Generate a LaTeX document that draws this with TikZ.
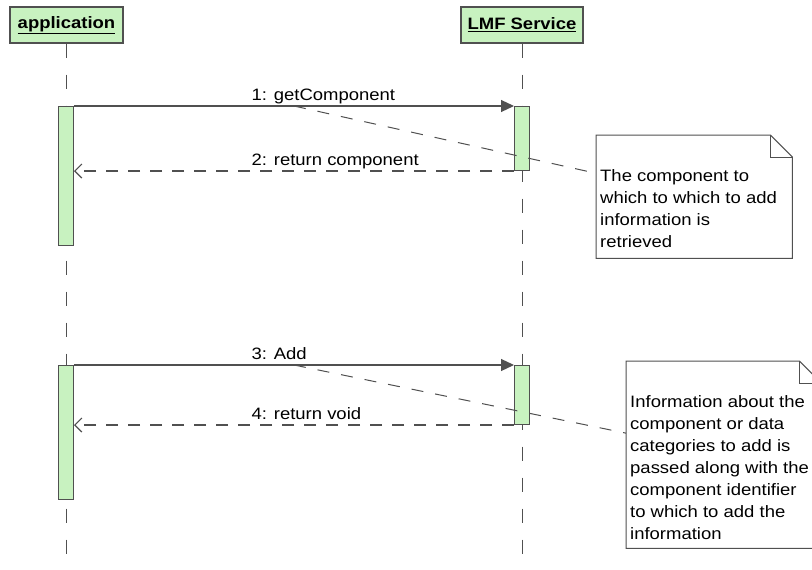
\documentclass[tikz,border=0pt]{standalone}
\usepackage{fontspec}
\setmainfont{Liberation Sans}[FakeStretch=1.12]
\usetikzlibrary{arrows.meta,calc}
\definecolor{actgreen}{RGB}{200,242,192}
\definecolor{umlgray}{RGB}{80,80,80}

\begin{document}
\begin{tikzpicture}[x=1pt,y=-1pt,line join=miter,
  every node/.style={font=\fontsize{16.5}{22}\selectfont},
  head/.style={draw=umlgray,fill=actgreen,line width=1.2pt,minimum height=36pt,inner sep=0pt,font=\fontsize{16.5}{22}\selectfont\bfseries},
  lifeline/.style={draw=umlgray,line width=1pt,dash pattern=on 14pt off 17pt},
  act/.style={draw=umlgray,fill=actgreen,line width=1pt,minimum width=15pt,inner sep=0pt,anchor=north},
  call/.style={draw=umlgray,line width=1.2pt,-{Triangle[length=13pt,width=12pt]}},
  reply/.style={draw=umlgray,line width=1.2pt,dash pattern=on 12pt off 10pt,-{Straight Barb[length=7pt,width=14pt,line width=1.2pt]}},
  msglabel/.style={anchor=south west,inner sep=1pt,text depth=4pt},
  notebox/.style={minimum width=#1,anchor=north west,inner sep=0pt,fill=white},
  noteline/.style={draw=umlgray,line width=1pt},
  notetext/.style={anchor=north west,inner sep=0pt,align=left},
  notelink/.style={draw=umlgray,line width=1pt,dash pattern=on 12pt off 12pt}]
\useasboundingbox (0,0) rectangle (812,570);
\clip (0,0) rectangle (812,570);

\node[head,minimum width=113pt] (app) at (66.5,25) {\underline{application}};
\node[head,minimum width=122pt] (lmf) at (522,25) {\underline{LMF Service}};
\coordinate (append) at (66,570);
\coordinate (lmfend) at (522,570);
\draw[lifeline] (app) -- (app.south |- append);
\draw[lifeline] (lmf) -- (lmfend);

\node[act,minimum height=139pt] (appact1) at (66,106) {};
\node[act,minimum height=64pt] (lmfact1) at (522,106) {};
\node[act,minimum height=134pt] (appact2) at (66,365) {};
\node[act,minimum height=59pt] (lmfact2) at (522,365) {};

\draw[call] (appact1.north east) -- (lmfact1.north west) coordinate[pos=0.5] (m1)
  node[msglabel,pos=0.4] {1: getComponent};
\draw[reply] (lmfact1.south west) -- (appact1.east |- lmfact1.south west)
  node[msglabel,pos=0.6] {2: return component};
\draw[call] (appact2.north east) -- (lmfact2.north west) coordinate[pos=0.5] (m3)
  node[msglabel,pos=0.4] {3: Add};
\draw[reply] (lmfact2.south west) -- (appact2.east |- lmfact2.south west)
  node[msglabel,pos=0.6] {4: return void};

\node[notebox=196pt,minimum height=123pt] (n1) at (596,135) {};
\draw[noteline] (n1.north west) -- ([xshift=-22pt]n1.north east) -- ([yshift=-22pt]n1.north east)
  -- (n1.south east) -- (n1.south west) -- cycle;
\draw[noteline] ([xshift=-22pt]n1.north east) |- ([yshift=-22pt]n1.north east);
\node[notetext] (n1text) at ([xshift=4pt,yshift=-34pt]n1.north west)
  {The component to\\which to which to add\\information is\\retrieved};

\node[notebox=195pt,minimum height=187pt] (n2) at (626,361) {};
\draw[noteline] (n2.north west) -- ([xshift=-22pt]n2.north east) -- ([yshift=-22pt]n2.north east)
  -- (n2.south east) -- (n2.south west) -- cycle;
\draw[noteline] ([xshift=-22pt]n2.north east) |- ([yshift=-22pt]n2.north east);
\node[notetext] (n2text) at ([xshift=4pt,yshift=-34pt]n2.north west)
  {Information about the\\component or data\\categories to add is\\passed along with the\\component identifier\\to which to add the\\information};

\draw[notelink] (m1) -- ($(n1.north west)!0.31!(n1.south west)$);
\draw[notelink] (m3) -- ($(n2.north west)!0.385!(n2.south west)$);
\end{tikzpicture}
\end{document}
